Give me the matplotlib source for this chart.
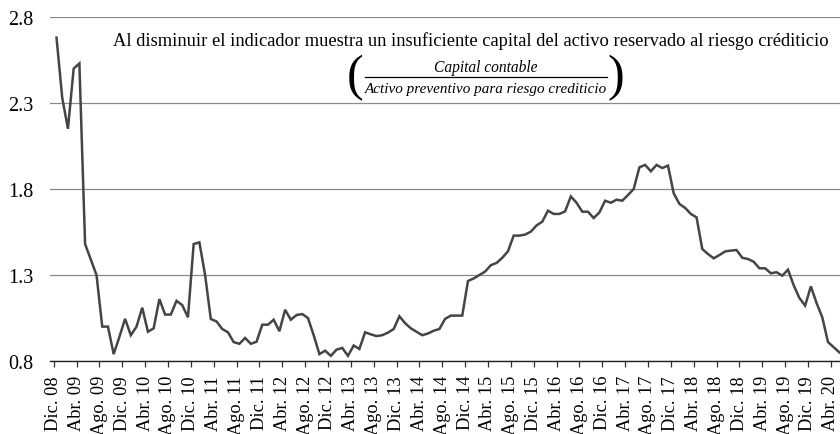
import matplotlib
matplotlib.use("Agg")
import matplotlib.pyplot as plt
import numpy as np
from matplotlib.lines import Line2D

plt.rcParams['font.family'] = ['Liberation Serif', 'DejaVu Serif']

tick_labels = ["Dic. 08", "Abr. 09", "Ago. 09", "Dic. 09", "Abr. 10", "Ago. 10",
               "Dic. 10", "Abr. 11", "Ago. 11", "Dic. 11", "Abr. 12", "Ago. 12",
               "Dic. 12", "Abr. 13", "Ago. 13", "Dic. 13", "Abr. 14", "Ago. 14",
               "Dic. 14", "Abr. 15", "Ago. 15", "Dic. 15", "Abr. 16", "Ago. 16",
               "Dic. 16", "Abr. 17", "Ago. 17", "Dic. 17", "Abr. 18", "Ago. 18",
               "Dic. 18", "Abr. 19", "Ago. 19", "Dic. 19", "Abr. 20"]

values = [2.68, 2.33, 2.15, 2.50, 2.53, 1.48, 1.39, 1.30, 1.00, 1.00,
          0.84, 0.94, 1.045, 0.95, 1.00, 1.11, 0.97, 0.99, 1.16, 1.07,
          1.07, 1.15, 1.125, 1.054, 1.48, 1.49, 1.30, 1.044, 1.03, 0.986,
          0.967, 0.91, 0.90, 0.934, 0.90, 0.912, 1.011, 1.011, 1.04, 0.973,
          1.098, 1.04, 1.067, 1.073, 1.05, 0.95, 0.84, 0.86, 0.83, 0.866,
          0.876, 0.83, 0.89, 0.87, 0.967, 0.955, 0.945, 0.95, 0.965, 0.986,
          1.06, 1.02, 0.99, 0.97, 0.95, 0.96, 0.976, 0.986, 1.045, 1.064,
          1.064, 1.064, 1.265, 1.28, 1.30, 1.32, 1.357, 1.37, 1.40, 1.438,
          1.529, 1.529, 1.535, 1.552, 1.588, 1.61, 1.674, 1.655, 1.655, 1.67,
          1.757, 1.72, 1.668, 1.668, 1.631, 1.664, 1.732, 1.72, 1.738, 1.732,
          1.765, 1.80, 1.926, 1.94, 1.903, 1.94, 1.922, 1.936, 1.775, 1.713,
          1.69, 1.655, 1.635, 1.451, 1.422, 1.397, 1.416, 1.437, 1.442, 1.445,
          1.40, 1.393, 1.377, 1.339, 1.339, 1.31, 1.316, 1.296, 1.331, 1.24,
          1.166, 1.122, 1.234, 1.137, 1.054, 0.91, 0.88, 0.85]

y_ticks = [0.8, 1.3, 1.8, 2.3, 2.8]
y_tick_labels = ["0.8", "1.3", "1.8", "2.3", "2.8"]

title_text = "Al disminuir el indicador muestra un insuficiente capital del activo reservado al riesgo créditicio"
numerator = "Capital contable"
denominator = "Activo preventivo para riesgo crediticio"

fig = plt.figure(figsize=(8.4, 4.35), dpi=100)
ax = fig.add_axes([50/840, 1-362/435, 790/840, (362-18)/435])

x = np.arange(len(values))
ax.plot(x, values, color='#454545', lw=1.8, solid_joinstyle='miter', clip_on=False, zorder=3)

ax.set_ylim(0.8, 2.8)
ax.set_xlim(-1.14, 137.1)
ax.set_yticks(y_ticks)
ax.set_yticklabels(y_tick_labels, fontsize=14.5)
ax.tick_params(axis='y', length=0, pad=12)
ax.yaxis.grid(True, color='#8a8a8a', lw=0.9)
ax.set_axisbelow(True)

tick_pos = np.arange(0, len(values), 4)[:len(tick_labels)] - 0.5
ax.set_xticks(tick_pos)
ax.set_xticklabels(tick_labels, rotation=90, fontsize=13.2)
ax.tick_params(axis='x', which='major', length=4, width=0.9, color='#333333', pad=6)

for s in ['top', 'right', 'left']:
    ax.spines[s].set_visible(False)
ax.spines['bottom'].set_color('#222222')
ax.spines['bottom'].set_linewidth(1.0)

# annotation
fig.text(471/840, 1-41/435, title_text, ha='center', va='center', fontsize=13.3)
fig.text(486/840, 1-68/435, numerator, ha='center', va='center', fontsize=11.2, style='italic')
fig.text(486/840, 1-89/435, denominator, ha='center', va='center', fontsize=10.9, style='italic')
fig.add_artist(Line2D([365/840, 607/840], [1-78/435, 1-78/435], color='black', lw=0.9,
                      transform=fig.transFigure))
fig.text(355/840, 1-78/435, "(", ha='center', va='center', fontsize=36, fontweight='light')
fig.text(616/840, 1-78/435, ")", ha='center', va='center', fontsize=36, fontweight='light')

fig.savefig("out.png", dpi=100)
